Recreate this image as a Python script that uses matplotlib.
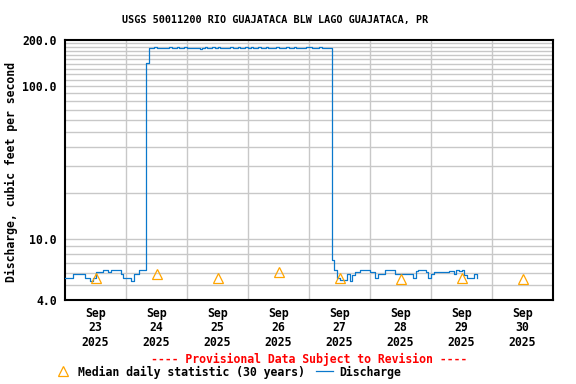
import matplotlib
matplotlib.use("Agg")
import matplotlib.pyplot as plt
import matplotlib.dates as mdates
from matplotlib.lines import Line2D
from matplotlib.ticker import FixedLocator, NullFormatter
import numpy as np
from datetime import datetime, timedelta

# ---------------- data ----------------
start = datetime(2025, 9, 23, 0, 0)
# hourly discharge, cfs, starting Sep 23 00:00
discharge = [
    5.56, 5.56, 5.56, 5.93, 5.93, 5.93, 5.93, 5.93, 5.56, 5.56,   # h0-9
    5.36, 5.56, 6.08, 6.08, 6.08, 6.26, 6.26, 6.08, 6.26, 6.26,   # h10-19
    6.26, 6.26, 5.93, 5.56, 5.56, 5.56, 5.36, 5.93, 5.93, 6.26,   # h20-29
    6.26, 6.26, 141.0,                                            # h30-32
    178, 177, 180, 177, 177, 178, 176, 177, 179, 177,             # h33-42
    178, 180, 177, 178, 179, 177, 178, 177, 176, 177,             # h43-52
    175, 177, 179, 176, 178, 180, 177, 179, 177, 176,             # h53-62
    178, 177, 180, 176, 177, 179, 176, 178, 180, 177,             # h63-72
    179, 176, 177, 180, 178, 177, 179, 176, 178, 177,             # h73-82
    180, 177, 178, 176, 179, 177, 178, 180, 177, 176,             # h83-92
    178, 177, 179, 180, 177, 178, 176, 179, 177, 178,             # h93-102
    177, 178,                                                     # h103-104
    7.3, 6.3, 5.6, 5.4, 5.4, 5.4, 5.93, 5.36, 5.8, 6.08,          # h105-114
    6.08, 6.26, 6.26, 6.3, 6.3, 6.08, 6.08, 5.56, 5.93, 5.93,     # h115-124
    5.93, 6.3, 6.3, 6.3, 6.3, 5.93, 5.93, 5.93, 5.93, 5.93,       # h125-134
    5.93, 5.93, 5.56, 6.15, 6.26, 6.26, 6.26, 6.08, 5.56, 5.93,   # h135-144
    6.08, 6.08, 6.08, 6.08, 6.08, 6.08, 6.15, 6.15, 5.93, 6.26,   # h145-154
    6.15, 6.26, 5.8, 5.56, 5.56, 5.56, 5.93, 5.56,                # h155-162
]
median_days = [23, 24, 25, 26, 27, 28, 29, 30]
median_vals = [5.6, 5.9, 5.6, 6.1, 5.6, 5.5, 5.6, 5.5]

title = "USGS 50011200 RIO GUAJATACA BLW LAGO GUAJATACA, PR"
ylabel = "Discharge, cubic feet per second"
ytick_vals = [4, 10, 100, 200]
ytick_labels = ["4.0", "10.0", "100.0", "200.0"]
minor_grid = [5, 6, 7, 8, 9] + list(range(20, 100, 10)) + list(range(110, 200, 10))

# ---------------- plot ----------------
FONT = "DejaVu Sans Mono"
times = [start + timedelta(hours=i) for i in range(len(discharge))]
med_times = [datetime(2025, 9, d, 12) for d in median_days]

fig = plt.figure(figsize=(5.76, 3.84), dpi=100)
ax = fig.add_axes([65/576, 1-300/384, 488/576, 260/384])

ax.set_yscale("log")
ax.set_ylim(4, 200)
ax.set_xlim(datetime(2025, 9, 23), datetime(2025, 10, 1))

grid_c = "#c8c8c8"
for v in minor_grid + [10, 100]:
    ax.axhline(v, color=grid_c, lw=1.0, zorder=1)
for d in range(24, 31):
    ax.axvline(datetime(2025, 9, d), color=grid_c, lw=1.0, zorder=1)

ax.plot(times, discharge, color="#0a78cc", lw=0.9, drawstyle="steps-post", zorder=3)
ax.plot(med_times, median_vals, linestyle="none", marker="^", markersize=7,
        markerfacecolor="none", markeredgecolor="#ffa500", markeredgewidth=0.9, zorder=4)

ax.yaxis.set_major_locator(FixedLocator(ytick_vals))
ax.set_yticklabels(ytick_labels)
ax.yaxis.set_minor_formatter(NullFormatter())
ax.yaxis.set_minor_locator(FixedLocator([]))

ax.xaxis.set_major_locator(FixedLocator([mdates.date2num(t) for t in med_times]))
ax.set_xticklabels([f"Sep\n{d}\n2025" for d in median_days])

ax.tick_params(axis="both", length=0, labelsize=8.3)
ax.tick_params(axis="x", pad=5)
ax.tick_params(axis="y", pad=6)
for lab in ax.get_xticklabels() + ax.get_yticklabels():
    lab.set_fontfamily(FONT)
    lab.set_fontweight("bold")
for lab in ax.get_xticklabels():
    lab.set_linespacing(1.15)

for s in ax.spines.values():
    s.set_linewidth(1.5)
    s.set_color("black")

fig.text(275/576, 1-20/384, title, ha="center", va="center",
         fontfamily=FONT, fontweight="bold", fontsize=7.3)
fig.text(11.5/576, 1-172/384, ylabel, ha="center", va="center", rotation=90,
         fontfamily=FONT, fontweight="bold", fontsize=8.3)
fig.text(308.7/576, 1-359/384, "---- Provisional Data Subject to Revision ----",
         ha="center", va="center", color="red",
         fontfamily=FONT, fontweight="bold", fontsize=8.3)

# legend
fig.add_artist(Line2D([63.3/576], [1-371/384], transform=fig.transFigure, linestyle="none",
                      marker="^", markersize=7, markerfacecolor="none",
                      markeredgecolor="#ffa500", markeredgewidth=0.9))
fig.text(77.7/576, 1-372/384, "Median daily statistic (30 years)", ha="left", va="center",
         fontfamily=FONT, fontweight="bold", fontsize=8.3)
fig.add_artist(Line2D([316/576, 333/576], [1-371/384, 1-371/384], transform=fig.transFigure,
                      color="#0a78cc", lw=0.9))
fig.text(339.3/576, 1-372/384, "Discharge", ha="left", va="center",
         fontfamily=FONT, fontweight="bold", fontsize=8.3)

fig.savefig("out.png", dpi=100)
